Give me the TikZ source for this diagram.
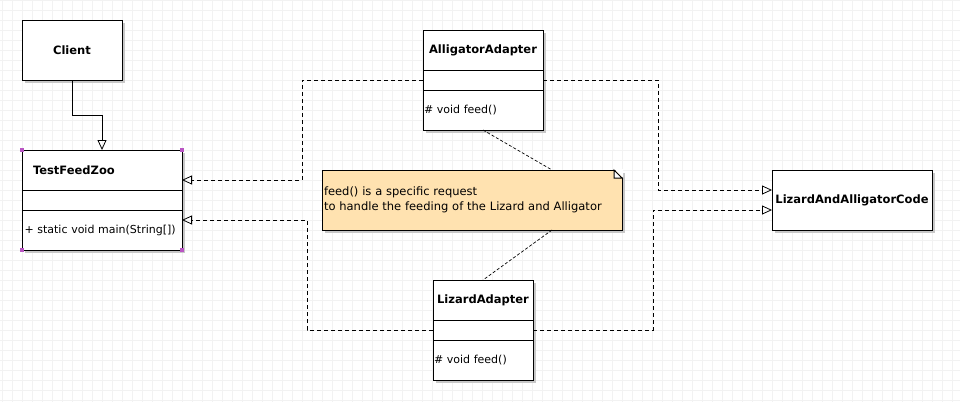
\documentclass[tikz,border=0pt]{standalone}
\usepackage{fontspec}
\setmainfont{DejaVu Sans}
\usepackage{xcolor}
\usepackage{tikz}
\usetikzlibrary{
	positioning,arrows.meta,shadows
}

\definecolor{notefill}{RGB}{255,226,176}
\definecolor{shadowgray}{RGB}{200,200,200}
\definecolor{gridgray}{RGB}{242,242,242}
\definecolor{handle}{RGB}{185,85,195}

\tikzset{
	box/.style={draw, fill=white, line width=1pt, inner sep=0pt, outer sep=0pt,
		drop shadow={shadow xshift=3pt, shadow yshift=-3pt, fill=shadowgray, opacity=1}},
	title/.style={box, font=\fontsize{11.5pt}{15pt}\selectfont\bfseries},
	member/.style={box, align=left, font=\fontsize{11pt}{15pt}\selectfont},
	notebox/.style={box, fill=notefill, align=left, font=\fontsize{11.5pt}{15pt}\selectfont},
	realize/.style={line width=0.8pt, dash pattern=on 4pt off 3pt,
		-{Triangle[open, length=10pt, width=9pt]}},
	inherit/.style={line width=0.8pt, -{Triangle[open, length=10pt, width=9pt]}},
	noteline/.style={line width=0.7pt, dash pattern=on 3pt off 2pt}
}

\begin{document}
\begin{tikzpicture}[x=1pt, y=-1pt]
	\useasboundingbox (0,0) rectangle (960,402);
	\draw[gridgray, line width=0.8pt, xshift=2pt, step=10pt] (-2,0) grid (958,402);
	%
	\node[title, minimum width=100pt, minimum height=60pt] (client) at (72,50) {Client};
	%
	\node[title, anchor=north west, minimum width=160pt, minimum height=40pt, text width=138pt, align=left] (tfzName) at (22,150) {TestFeedZoo};
	\node[box, minimum width=160pt, minimum height=20pt, below=0pt of tfzName] (tfzAttr) {};
	\node[member, minimum width=160pt, minimum height=40pt, text width=155pt, below=0pt of tfzAttr] (tfzOps) {\mbox{+ static void main(String[])}};
	%
	\node[title, minimum width=120pt, minimum height=40pt] (aaName) at (483,50) {AlligatorAdapter};
	\node[box, minimum width=120pt, minimum height=20pt, below=0pt of aaName] (aaAttr) {};
	\node[member, minimum width=120pt, minimum height=40pt, text width=118pt, below=0pt of aaAttr] (aaOps) {\# void feed()};
	%
	\node[title, minimum width=100pt, minimum height=40pt] (laName) at (483,300) {LizardAdapter};
	\node[box, minimum width=100pt, minimum height=20pt, below=0pt of laName] (laAttr) {};
	\node[member, minimum width=100pt, minimum height=40pt, text width=98pt, below=0pt of laAttr] (laOps) {\# void feed()};
	%
	\node[title, minimum width=160pt, minimum height=60pt] (code) at (852,200) {LizardAndAlligatorCode};
	%
	\node[notebox, minimum width=300pt, minimum height=60pt, text width=296pt] (note) at (472,200)
		{feed() is a specific request\\to handle the feeding of the Lizard and Alligator};
	\fill[white] ([xshift=-8pt, yshift=1pt]note.north east) -- ([xshift=1pt, yshift=1pt]note.north east)
		-- ([xshift=1pt, yshift=-8pt]note.north east) -- cycle;
	\draw[line width=1pt, fill=white] ([xshift=-8pt]note.north east) -- ++(0,8) -- ([yshift=-8pt]note.north east) -- cycle;
	%
	\foreach \c in {tfzName.north west, tfzName.north east, tfzOps.south west, tfzOps.south east}
		\fill[handle] ([shift={(-2pt,-2pt)}]\c) rectangle ++(4pt,4pt);
	%
	\draw[inherit] (client.south) |- ([yshift=35pt]tfzName.north) -- (tfzName.north);
	\draw[realize] (aaAttr.west) -| (302,180) -- (tfzName.east |- 302,180);
	\draw[realize] (aaAttr.east) -| (658,190) -- (code.west |- 658,190);
	\draw[realize] (laAttr.west) -| (307,220) -- (tfzOps.east |- 307,220);
	\draw[realize] (laAttr.east) -| (653,210) -- (code.west |- 653,210);
	\draw[noteline] (aaOps.south) -- ([xshift=80pt]note.north);
	\draw[noteline] ([xshift=80pt]note.south) -- (laName.north);
\end{tikzpicture}
\end{document}
